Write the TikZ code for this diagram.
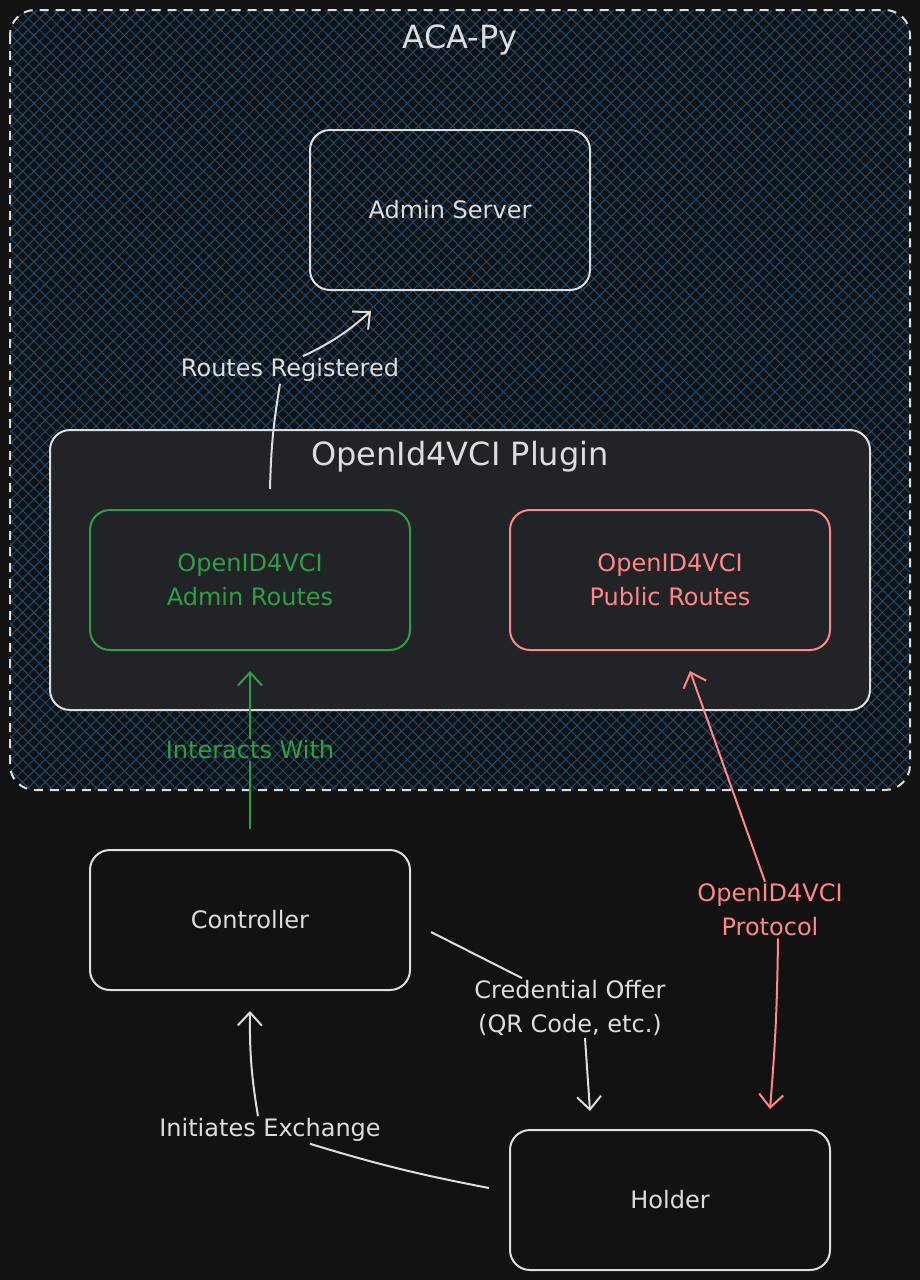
\documentclass[tikz,border=0pt]{standalone}
\usepackage{fontspec}
\setmainfont{DejaVu Sans}
\usetikzlibrary{arrows.meta,patterns.meta,positioning}

\definecolor{bgdark}{HTML}{121212}
\definecolor{hatchblue}{HTML}{1B4A72}
\definecolor{plugfill}{HTML}{222327}
\definecolor{inkgray}{HTML}{DDDDDD}
\definecolor{inkgreen}{HTML}{2F9E44}
\definecolor{inkred}{HTML}{FF8787}

\tikzset{
  box/.style={draw=inkgray, line width=2pt, rounded corners=20pt,
    minimum width=320pt, minimum height=140pt, align=center,
    text=inkgray, font=\fontsize{24}{34}\selectfont},
  lbl/.style={text=inkgray, align=center, inner sep=2pt,
    font=\fontsize{24}{34}\selectfont},
  bigtitle/.style={text=inkgray, font=\fontsize{32}{38}\selectfont},
  conn/.style={draw=inkgray, line width=2pt},
  tip/.style={-{Straight Barb[length=13pt,width=24pt,line width=2pt]}},
  hatch/.style={pattern={Lines[angle=#1,distance=8pt,line width=1pt]},
    pattern color=hatchblue}
}

\begin{document}
\begin{tikzpicture}[x=1pt,y=-1pt]
  \fill[bgdark] (0,0) rectangle (920,1280);
  \useasboundingbox (0,0) rectangle (920,1280);

  % ACA-Py area
  \path[hatch=45, rounded corners=25pt] (10,10) rectangle (910,790);
  \path[hatch=-45, rounded corners=25pt] (10,10) rectangle (910,790);
  \draw[inkgray, line width=2pt, dash pattern=on 9pt off 7pt,
    rounded corners=25pt] (10,10) rectangle (910,790);
  \node[bigtitle] (acapy) at (460,40) {ACA-Py};

  \node[box, minimum width=280pt, minimum height=160pt] (admin) at (450,210) {Admin Server};

  % plugin
  \node[draw=inkgray, line width=2pt, fill=plugfill, rounded corners=20pt,
    minimum width=820pt, minimum height=280pt] (plugin) at (460,570) {};
  \node[bigtitle] (plugtitle) at (460,457) {OpenId4VCI Plugin};

  \node[box, draw=inkgreen, text=inkgreen] (adminroutes) at (250,580) {OpenID4VCI\\Admin Routes};
  \node[box, draw=inkred, text=inkred] (pubroutes) at (670,580) {OpenID4VCI\\Public Routes};

  \node[box] (controller) at (250,920) {Controller};
  \node[box] (holder) at (670,1200) {Holder};

  % labels
  \node[lbl] (routeslbl) at (290,370) {Routes Registered};
  \node[lbl, text=inkgreen] (interlbl) at (250,750) {Interacts With};
  \node[lbl, text=inkred] (protolbl) at (770,910) {OpenID4VCI\\Protocol};
  \node[lbl] (credlbl) at (570,1008) {Credential Offer\\(QR Code, etc.)};
  \node[lbl] (initlbl) at (270,1130) {Initiates Exchange};

  % connectors
  \draw[conn] ([xshift=20pt,yshift=20pt]adminroutes.north) to[bend left=4] ([xshift=-10pt]routeslbl.south);
  \draw[conn,tip] ([xshift=13pt]routeslbl.north) to[bend right=8] ([xshift=62pt,yshift=-20pt]admin.south west);

  \draw[conn,draw=inkgreen] ([yshift=20pt]controller.north) -- (interlbl.south);
  \draw[conn,draw=inkgreen,tip] (interlbl.north) -- ([yshift=-20pt]adminroutes.south);

  \draw[conn,draw=inkred,tip] ([xshift=-5pt]protolbl.north) -- ([xshift=20pt,yshift=-20pt]pubroutes.south);
  \draw[conn,draw=inkred,tip] ([xshift=8pt]protolbl.south) to[bend left=2] ([xshift=100pt,yshift=20pt]holder.north);

  \draw[conn] ([xshift=20pt,yshift=-12pt]controller.east) -- ([xshift=-48pt]credlbl.north);
  \draw[conn,tip] ([xshift=15pt]credlbl.south) -- ([xshift=-80pt,yshift=18pt]holder.north);

  \draw[conn] ([xshift=-20pt,yshift=12pt]holder.west) to[bend left=3] ([xshift=40pt]initlbl.south);
  \draw[conn,tip] ([xshift=-12pt]initlbl.north) to[bend left=5] ([yshift=-20pt]controller.south);
\end{tikzpicture}
\end{document}
